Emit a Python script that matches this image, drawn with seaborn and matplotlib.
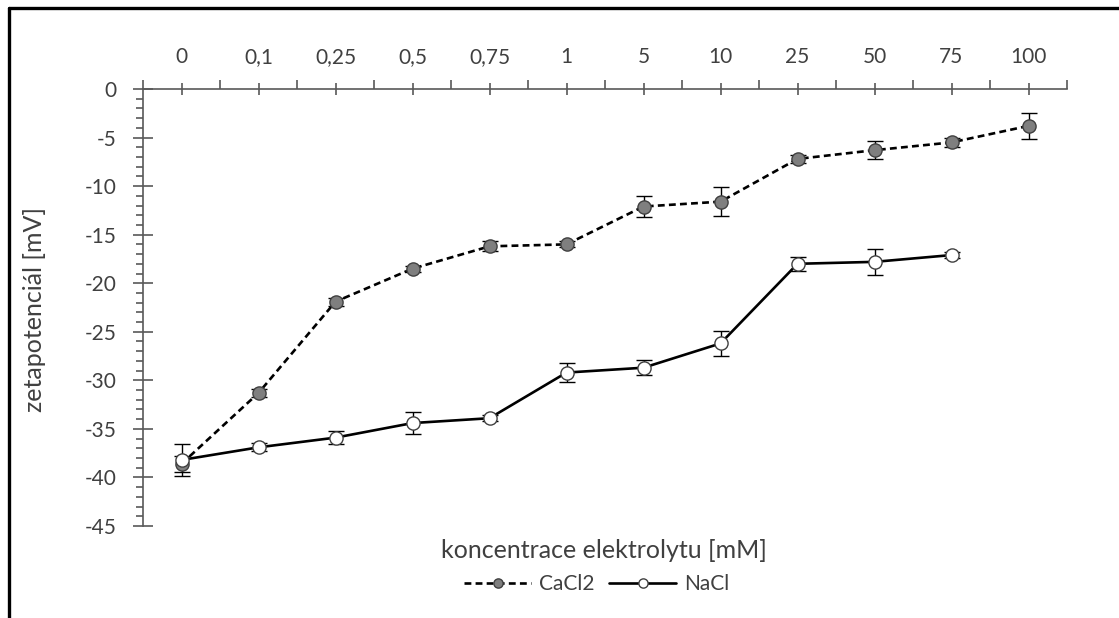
import numpy as np
import pandas as pd
import matplotlib
matplotlib.use("Agg")
import matplotlib.pyplot as plt
from matplotlib.lines import Line2D
from matplotlib.ticker import FixedLocator, MultipleLocator
import seaborn as sns

categories = ["0", "0,1", "0,25", "0,5", "0,75", "1", "5", "10", "25", "50", "75", "100"]
cacl2 = [-38.6, -31.3, -21.9, -18.5, -16.2, -16.0, -12.1, -11.6, -7.2, -6.3, -5.5, -3.8]
cacl2_err = [0.8, 0.4, 0.4, 0.3, 0.5, 0.3, 1.1, 1.5, 0.4, 0.9, 0.5, 1.3]
nacl = [-38.2, -36.9, -35.9, -34.4, -33.9, -29.2, -28.7, -26.2, -18.0, -17.8, -17.1, np.nan]
nacl_err = [1.6, 0.4, 0.7, 1.1, 0.3, 1.0, 0.8, 1.3, 0.75, 1.35, 0.3, np.nan]
y_ticks = [0, -5, -10, -15, -20, -25, -30, -35, -40, -45]

sns.set_theme(style="white")
plt.rcParams["font.family"] = ["Lato", "DejaVu Sans"]

TXT = "#404040"
AX = "#595959"
FS = 15
FS_TITLE = 18

fig = plt.figure(figsize=(11.19, 6.18), dpi=100)
ax = fig.add_axes([143 / 1119, 1 - 526 / 618, (1067 - 143) / 1119, (526 - 89) / 618])

pos = np.arange(len(categories))
df = pd.DataFrame({
    "pos": np.concatenate([pos, pos]),
    "val": cacl2 + nacl,
    "series": ["CaCl2"] * len(pos) + ["NaCl"] * len(pos),
})

# error bars
ax.errorbar(pos, cacl2, yerr=cacl2_err, fmt="none", ecolor="black", elinewidth=1.0,
            capsize=5.5, capthick=1.0, zorder=2)
ax.errorbar(pos, nacl, yerr=nacl_err, fmt="none", ecolor="black", elinewidth=1.0,
            capsize=5.5, capthick=1.0, zorder=2)

sns.lineplot(data=df[df.series == "CaCl2"], x="pos", y="val", ax=ax, color="black",
             linewidth=1.9, linestyle=(0, (2.6, 1.6)), marker="o", markersize=9.5,
             markerfacecolor="#7f7f7f", markeredgecolor="#404040", markeredgewidth=1.0,
             label="CaCl2", zorder=3)
sns.lineplot(data=df[df.series == "NaCl"].dropna(), x="pos", y="val", ax=ax, color="black",
             linewidth=1.9, marker="o", markersize=9.5,
             markerfacecolor="white", markeredgecolor="#404040", markeredgewidth=1.0,
             label="NaCl", zorder=4)

ax.set_xlim(-0.5, len(categories) - 0.5)
ax.set_ylim(-45, 0)

for s in ["bottom", "right"]:
    ax.spines[s].set_visible(False)
for s in ["top", "left"]:
    ax.spines[s].set_color(AX)
    ax.spines[s].set_linewidth(1.2)

ax.xaxis.tick_top()
ax.set_xticks(pos)
ax.set_xticklabels(categories)
ax.xaxis.set_minor_locator(FixedLocator(np.arange(-0.5, len(categories), 1.0)))
ax.tick_params(axis="x", which="major", direction="inout", length=9, width=1.2,
               color=AX, labelsize=FS, labelcolor=TXT, pad=11, top=True, bottom=False)
ax.tick_params(axis="x", which="minor", direction="out", length=6.5, width=1.2,
               color=AX, top=True, bottom=False)

ax.set_yticks(y_ticks)
ax.set_yticklabels([str(v) for v in y_ticks])
ax.yaxis.set_minor_locator(MultipleLocator(1))
ax.tick_params(axis="y", which="major", direction="inout", length=14, width=1.2,
               color=AX, labelsize=FS, labelcolor=TXT, pad=12, left=True)
ax.tick_params(axis="y", which="minor", direction="out", length=5, width=1.2,
               color=AX, left=True)

ax.set_xlabel("")
ax.set_ylabel("")
fig.text(604 / 1119, 1 - 550 / 618, "koncentrace elektrolytu [mM]", ha="center",
         va="center", fontsize=FS_TITLE, color=TXT)
fig.text(35 / 1119, 1 - 309 / 618, "zetapotenciál [mV]", ha="center", va="center",
         rotation=90, fontsize=FS_TITLE, color=TXT)

handles, labels = ax.get_legend_handles_labels()
leg = fig.legend(handles[:2], labels[:2], loc="center", bbox_to_anchor=(597 / 1119, 1 - 584 / 618),
                 ncol=2, frameon=False, fontsize=FS, handlelength=3.2, handletextpad=0.4,
                 columnspacing=0.7, markerscale=0.7, labelcolor=TXT)
if ax.get_legend() is not None:
    ax.get_legend().remove()

# outer frame (top and left only)
fig.add_artist(Line2D([9 / 1119, 1], [1 - 8 / 618, 1 - 8 / 618], transform=fig.transFigure,
                      color="black", linewidth=2.4))
fig.add_artist(Line2D([9 / 1119, 9 / 1119], [0, 1 - 8 / 618], transform=fig.transFigure,
                      color="black", linewidth=2.4))

fig.savefig("out.png", dpi=100, facecolor="white")
